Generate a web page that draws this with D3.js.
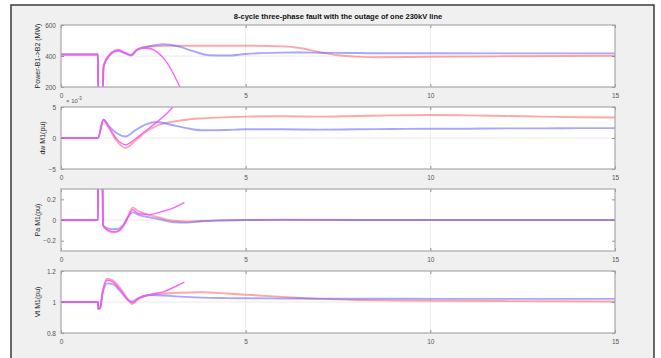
<!DOCTYPE html>
<html>
<head>
<meta charset="utf-8">
<script src="https://cdn.jsdelivr.net/npm/d3@7"></script>
<style>
  body { margin: 0; background: #fff; }
  text { font-family: "Liberation Sans", Arial, sans-serif; }
</style>
</head>
<body>
<svg id="chart" width="661" height="358"></svg>
<script>
// ---- chart text ----
const titleText = "8-cycle three-phase fault with the outage of one 230kV line";
const yLabels = ["Power-B1->B2 (MW)", "dw M1(pu)", "Pa M1(pu)", "Vt M1(pu)"];
const xTicks = [0, 5, 10, 15];
const yTicksPower = [200, 400, 600];
const yTicksDw = [-5, 0, 5];
const yTicksPa = [-0.2, 0, 0.2];
const yTicksVt = [0.8, 1, 1.2];

// ---- Power B1->B2 (MW) ----
const powerT    = [0, 1.0, 1.005, 1.13, 1.15, 1.2, 1.3, 1.45, 1.55, 1.7, 1.9, 2.05, 2.2, 2.5, 2.8, 3.2, 3.6, 4.0, 4.5, 5, 6, 6.5, 7, 7.5, 8, 8.6, 10, 12, 15];
const powerRed  = [410, 410, 190, 190, 330, 370, 405, 435, 440, 425, 408, 440, 455, 462, 465, 466, 466, 466, 466, 466, 462, 450, 425, 405, 396, 392, 395, 398, 402];
const powerBlue = [410, 410, 190, 190, 320, 360, 400, 428, 432, 420, 403, 438, 452, 468, 476, 460, 430, 405, 403, 413, 422, 423, 421, 420, 419, 418, 418, 417, 417];
const powerMagT = [0, 1.0, 1.005, 1.13, 1.15, 1.2, 1.3, 1.45, 1.55, 1.7, 1.9, 2.05, 2.2, 2.4, 2.6, 2.8, 3.0, 3.2, 3.34];
const powerMag  = [410, 410, 190, 190, 325, 365, 402, 432, 437, 423, 406, 440, 450, 448, 425, 380, 305, 210, 140];

// ---- rotor speed deviation dw M1 (x 1e-3 pu) ----
const dwT    = [0, 1.0, 1.15, 1.3, 1.5, 1.75, 2.0, 2.3, 2.6, 3.0, 3.4, 3.8, 4.5, 5, 6, 7, 8, 9, 10, 11, 12, 13, 14, 15];
const dwRed  = [0, 0, 2.95, 1.6, -0.4, -1.6, -0.5, 1.0, 2.0, 2.6, 2.95, 3.15, 3.35, 3.45, 3.5, 3.45, 3.55, 3.65, 3.7, 3.65, 3.55, 3.45, 3.35, 3.3];
const dwBlue = [0, 0, 2.95, 1.9, 0.8, 0.25, 1.2, 2.2, 2.58, 2.1, 1.6, 1.25, 1.3, 1.4, 1.4, 1.35, 1.4, 1.45, 1.5, 1.5, 1.55, 1.55, 1.6, 1.6];
const dwMagT = [0, 1.0, 1.15, 1.3, 1.5, 1.75, 2.0, 2.3, 2.6, 2.8, 3.0, 3.2, 3.34];
const dwMag  = [0, 0, 2.95, 1.7, -0.1, -1.1, -0.2, 1.2, 2.6, 3.6, 4.8, 6.2, 7.3];

// ---- accelerating power Pa M1 (pu) ----
const paT    = [0, 1.0, 1.005, 1.12, 1.14, 1.2, 1.42, 1.55, 1.7, 1.82, 1.94, 2.1, 2.4, 2.7, 3.0, 3.4, 3.8, 4.3, 5, 6, 8, 10, 15];
const paRed  = [0, 0, 0.45, 0.42, -0.05, -0.08, -0.12, -0.11, -0.05, 0.04, 0.12, 0.085, 0.048, 0.02, -0.005, -0.015, -0.01, -0.004, 0, 0.002, 0, 0, 0];
const paBlue = [0, 0, 0.45, 0.42, -0.05, -0.07, -0.09, -0.085, -0.04, 0.03, 0.074, 0.05, 0.026, 0.005, -0.02, -0.025, -0.012, -0.005, 0, 0.001, 0, 0, 0];
const paMagT = [0, 1.0, 1.005, 1.12, 1.14, 1.2, 1.42, 1.55, 1.7, 1.82, 1.94, 2.1, 2.4, 2.7, 3.0, 3.34];
const paMag  = [0, 0, 0.45, 0.42, -0.05, -0.08, -0.115, -0.105, -0.05, 0.03, 0.1, 0.06, 0.052, 0.078, 0.11, 0.167];

// ---- terminal voltage Vt M1 (pu) ----
const vtT    = [0, 1.0, 1.01, 1.06, 1.13, 1.25, 1.4, 1.6, 1.8, 1.93, 2.1, 2.4, 2.8, 3.2, 3.8, 4.5, 5, 6, 7, 8, 9, 10, 12, 15];
const vtRed  = [1, 1, 0.955, 0.962, 1.07, 1.15, 1.14, 1.09, 1.02, 0.987, 1.02, 1.045, 1.055, 1.06, 1.063, 1.055, 1.047, 1.033, 1.02, 1.013, 1.01, 1.008, 1.006, 1.003];
const vtBlue = [1, 1, 0.955, 0.962, 1.06, 1.12, 1.115, 1.07, 1.015, 1.004, 1.025, 1.045, 1.042, 1.035, 1.028, 1.025, 1.024, 1.023, 1.022, 1.021, 1.021, 1.02, 1.02, 1.02];
const vtMagT = [0, 1.0, 1.01, 1.06, 1.13, 1.25, 1.4, 1.6, 1.8, 1.93, 2.1, 2.4, 2.8, 3.1, 3.34];
const vtMag  = [1, 1, 0.955, 0.962, 1.065, 1.14, 1.13, 1.08, 1.02, 0.995, 1.025, 1.048, 1.068, 1.1, 1.128];

// ---- styling ----
const red = "rgb(255,95,95)", blue = "rgb(95,95,255)", magenta = "rgb(255,80,255)";

const panels = [
  { label: yLabels[0], domain: [200, 600], ticks: yTicksPower, fmt: d3.format("d"), labelX: 40,
    series: [[powerT, powerRed, red], [powerT, powerBlue, blue], [powerMagT, powerMag, magenta]] },
  { label: yLabels[1], domain: [-5, 5], ticks: yTicksDw, fmt: d3.format("d"), labelX: 45, exponent: true,
    series: [[dwT, dwRed, red], [dwT, dwBlue, blue], [dwMagT, dwMag, magenta]] },
  { label: yLabels[2], domain: [-0.3, 0.3], ticks: yTicksPa, fmt: d3.format(".1~f"), labelX: 40,
    series: [[paT, paRed, red], [paT, paBlue, blue], [paMagT, paMag, magenta]] },
  { label: yLabels[3], domain: [0.8, 1.2], ticks: yTicksVt, fmt: d3.format(".1~f"), labelX: 40,
    series: [[vtT, vtRed, red], [vtT, vtBlue, blue], [vtMagT, vtMag, magenta]] }
];

const svg = d3.select("#chart");
const left = 61, right = 615, panelTops = [25, 107, 189, 271], panelH = 62;

// figure frame
svg.append("rect").attr("x", 11).attr("y", 5).attr("width", 643).attr("height", 370)
  .attr("fill", "#f0f0f0").attr("stroke", "#3a3a3a").attr("stroke-width", 1.5);

svg.append("text").attr("x", (left + right) / 2).attr("y", 19)
  .attr("text-anchor", "middle").attr("font-size", 7.5).attr("font-weight", "bold")
  .attr("fill", "#111").text(titleText);

const x = d3.scaleLinear().domain([0, 15]).range([left, right]);

panels.forEach((p, i) => {
  const top = panelTops[i], bottom = top + panelH;
  const y = d3.scaleLinear().domain(p.domain).range([bottom, top]);
  const g = svg.append("g");

  g.append("rect").attr("x", left).attr("y", top).attr("width", right - left).attr("height", panelH)
    .attr("fill", "#fff");

  // grid
  g.selectAll(".gx").data(xTicks.slice(1, -1)).join("line")
    .attr("x1", d => x(d)).attr("x2", d => x(d)).attr("y1", top).attr("y2", bottom)
    .attr("stroke", "#e4e4e4").attr("stroke-width", 0.8);
  g.selectAll(".gy").data(p.ticks.slice(1, -1)).join("line")
    .attr("x1", left).attr("x2", right).attr("y1", d => y(d)).attr("y2", d => y(d))
    .attr("stroke", "#e4e4e4").attr("stroke-width", 0.8);

  // traces
  const clipId = "clip" + i;
  svg.append("clipPath").attr("id", clipId).append("rect")
    .attr("x", left).attr("y", top).attr("width", right - left).attr("height", panelH);
  const line = d3.line().x(d => x(d[0])).y(d => y(d[1])).curve(d3.curveMonotoneX);
  const lg = g.append("g").attr("clip-path", `url(#${clipId})`);
  p.series.forEach(([ts, vs, col]) => {
    lg.append("path").datum(ts.map((t, k) => [t, vs[k]]))
      .attr("d", line).attr("fill", "none").attr("stroke", col)
      .attr("stroke-width", col === magenta ? 1.4 : 1.9)
      .attr("stroke-opacity", col === magenta ? 0.9 : 0.55)
      .attr("stroke-linejoin", "round");
  });

  // axes
  const axL = d3.axisLeft(y).tickValues(p.ticks).tickFormat(p.fmt).tickSizeInner(-3).tickSizeOuter(0).tickPadding(5);
  const axR = d3.axisRight(y).tickValues(p.ticks).tickFormat("").tickSizeInner(-3).tickSizeOuter(0);
  const axB = d3.axisBottom(x).tickValues(xTicks).tickFormat(d3.format("d")).tickSizeInner(-3).tickSizeOuter(0).tickPadding(6);
  const axT = d3.axisTop(x).tickValues(xTicks).tickFormat("").tickSizeInner(-3).tickSizeOuter(0);
  [[axL, `translate(${left},0)`], [axR, `translate(${right},0)`],
   [axB, `translate(0,${bottom})`], [axT, `translate(0,${top})`]].forEach(([ax, tr]) => {
    const a = g.append("g").attr("transform", tr).call(ax);
    a.select(".domain").remove();
    a.selectAll("line").attr("stroke", "#777").attr("stroke-width", 0.8);
    a.selectAll("text").attr("font-size", 6.5).attr("fill", "#555").attr("font-family", "Liberation Sans, Arial, sans-serif");
  });

  g.append("rect").attr("x", left).attr("y", top).attr("width", right - left).attr("height", panelH)
    .attr("fill", "none").attr("stroke", "#a8a8a8").attr("stroke-width", 1.2);

  g.append("text").attr("transform", `translate(${p.labelX},${(top + bottom) / 2}) rotate(-90)`)
    .attr("text-anchor", "middle").attr("font-size", 7).attr("fill", "#222").text(p.label);

  if (p.exponent) {
    const e = g.append("text").attr("x", left + 5).attr("y", top - 4).attr("font-size", 6).attr("fill", "#555");
    e.append("tspan").text("\u00d7 10");
    e.append("tspan").attr("dy", -3).attr("font-size", 4.5).text("-3");
  }
});
</script>
</body>
</html>
